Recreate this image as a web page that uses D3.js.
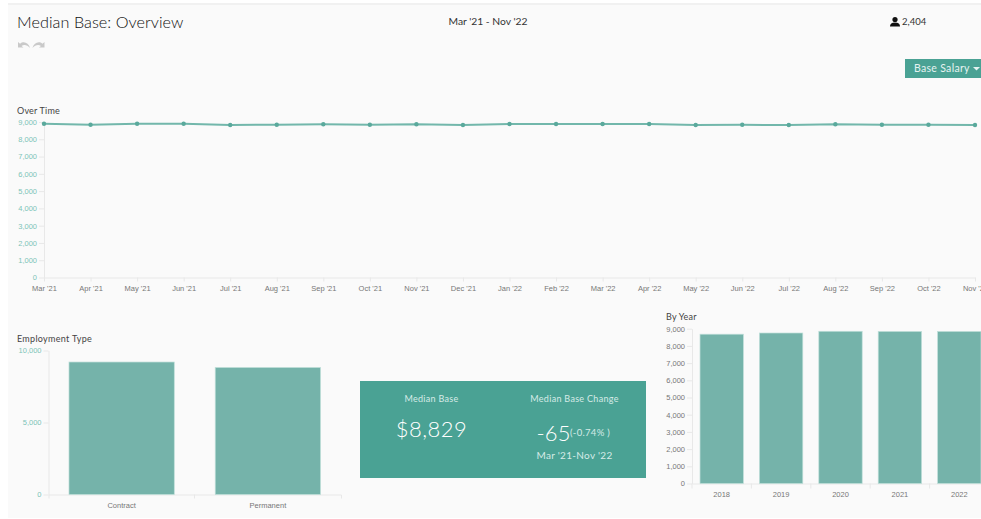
<!DOCTYPE html>
<html>
<head>
<meta charset="utf-8">
<script src="https://cdn.jsdelivr.net/npm/d3@7"></script>
<style>
  html, body { margin: 0; padding: 0; background: #fff; overflow: hidden; }
  svg { display: block; }
  .ui { font-family: "Lato", sans-serif; }
  .axis text { font-family: "Liberation Sans", sans-serif; font-size: 7.5px; }
  .axis path, .axis line { stroke: #e8e8e8; }
</style>
</head>
<body>
<svg width="981" height="519"></svg>
<script>
// values
var months = ["Mar '21","Apr '21","May '21","Jun '21","Jul '21","Aug '21","Sep '21","Oct '21","Nov '21","Dec '21",
    "Jan '22","Feb '22","Mar '22","Apr '22","May '22","Jun '22","Jul '22","Aug '22","Sep '22","Oct '22","Nov '22"];
var medianBase = [8895,8845,8895,8900,8830,8840,8870,8845,8873,8828,8884,8880,8880,8884,8826,8838,8826,8873,8838,8838,8829];
var empTypes = ["Contract","Permanent"];
var empValues = [9200,8820];
var empTicks = [0,5000,10000];
var years = ["2018","2019","2020","2021","2022"];
var yearValues = [8680,8750,8850,8840,8840];
var countTicks = d3.range(0,10000,1000);

var TEAL = "#4aa294", BAR = "#75b3aa", BAR_EDGE = "#bfdfd9", LINE = "#72b7ab", TICK_TEAL = "#7cc4b8", TICK_GREY = "#777";

var svg = d3.select("svg");

// page panel
svg.append("rect").attr("x",8).attr("y",4).attr("width",973).attr("height",514).attr("fill","#fafafa");
svg.append("rect").attr("x",8).attr("y",3).attr("width",973).attr("height",2).attr("fill","#f1f1f1");

function label(x, y, txt, size, fill, anchor, weight) {
    return svg.append("text")
    .attr("class","ui")
    .attr("x",x).attr("y",y)
    .attr("font-size",size)
    .attr("fill",fill)
    .attr("text-anchor",anchor || "start")
    .attr("font-weight",weight || 400)
    .text(txt);
}

function styleAxis(g, colour) {
    g.attr("class","axis");
    g.selectAll("text").attr("fill",colour);
}

// header
label(17,28,"Median Base: Overview",16.2,"#111","start",300).attr("letter-spacing",0.05);
label(488,25,"Mar '21 - Nov '22",10.3,"#333","middle");
label(902,25,"2,404",9.5,"#333");

// person icon
svg.append("circle").attr("cx",895).attr("cy",19.5).attr("r",2.6).attr("fill","#111");
svg.append("path").attr("d","M890 26.5 q0-4 5-4 q5 0 5 4 z").attr("fill","#111");

// undo / redo arrows
[[18,1.1],[44.5,-1.1]].forEach(function(a) {
    svg.append("path")
    .attr("transform","translate("+a[0]+",41.5) scale("+a[1]+",1)")
    .attr("d","M0 0.5 L0 6 L5 6 L3.2 4.4 C5.5 2.8 8.5 3.4 11 6.5 C9.5 1 5 -1 1.9 2.2 Z")
    .attr("fill","#c9c9c9");
});

// dropdown
svg.append("rect").attr("x",905).attr("y",59).attr("width",76).attr("height",19).attr("fill",TEAL);
label(914,72,"Base Salary",10.5,"#e6f3f1").attr("letter-spacing",0.3);
svg.append("path").attr("d","M973 67 h7 l-3.5 3.5 z").attr("fill","#e6f3f1");

// over time line
label(17,114,"Over Time",9,"#444").attr("letter-spacing",0.2);

var xLine = d3.scalePoint().domain(months).range([44,975]);
var yLine = d3.scaleLinear().domain([0,9000]).range([277.5,122]);

var gx = svg.append("g").attr("transform","translate(0,277.5)")
    .call(d3.axisBottom(xLine).tickSize(4).tickSizeOuter(0).tickPadding(4));
styleAxis(gx, TICK_GREY);
var gy = svg.append("g").attr("transform","translate(44,0)")
    .call(d3.axisLeft(yLine).tickValues(countTicks).tickFormat(d3.format(",")).tickSize(5).tickSizeOuter(0).tickPadding(2));
styleAxis(gy, TICK_TEAL);

svg.append("path")
    .datum(medianBase)
    .attr("fill","none")
    .attr("stroke",LINE)
    .attr("stroke-width",2)
    .attr("d",d3.line().x(function(d,i) {return xLine(months[i]);}).y(function(d) {return yLine(d);}));

svg.selectAll("circle.pt")
    .data(medianBase)
    .enter()
    .append("circle")
    .attr("class","pt")
    .attr("r",2.2)
    .attr("fill","#5aa99c")
    .attr("cx",function(d,i) {return xLine(months[i]);})
    .attr("cy",function(d) {return yLine(d);});

// employment type bars
label(17,342,"Employment Type",9,"#444").attr("letter-spacing",0.3);

var xEmp = d3.scaleBand().domain(empTypes).range([48.5,341]).paddingInner(0.28).paddingOuter(0.14);
var yEmp = d3.scaleLinear().domain([0,10000]).range([494.5,350.5]);

var ex = svg.append("g").attr("transform","translate(0,494.5)")
    .call(d3.axisBottom(xEmp).tickSize(4).tickPadding(4).tickSizeOuter(4));
styleAxis(ex, TICK_GREY);
ex.selectAll(".tick line").remove();
ex.selectAll("line.sep")
    .data([194.5])
    .enter().append("line").attr("class","sep")
    .attr("x1",function(d) {return d;}).attr("x2",function(d) {return d;})
    .attr("y1",0).attr("y2",4);
var ey = svg.append("g").attr("transform","translate(48.5,0)")
    .call(d3.axisLeft(yEmp).tickValues(empTicks).tickFormat(d3.format(",")).tickSize(5).tickSizeOuter(0).tickPadding(2));
styleAxis(ey, TICK_TEAL);

svg.selectAll("rect.emp")
    .data(empValues)
    .enter()
    .append("rect")
    .attr("class","emp")
    .attr("fill",BAR)
    .attr("stroke",BAR_EDGE)
    .attr("stroke-width",0.7)
    .attr("x",function(d,i) {return xEmp(empTypes[i]);})
    .attr("width",xEmp.bandwidth())
    .attr("y",function(d) {return yEmp(d);})
    .attr("height",function(d) {return yEmp(0)-yEmp(d);});

// KPI card
svg.append("rect").attr("x",360).attr("y",381).attr("width",286).attr("height",97).attr("fill",TEAL);
label(431.5,402,"Median Base",9,"#d6ebe7","middle").attr("letter-spacing",0.3);
label(431.5,437,"$8,829",22,"#fff","middle",300).attr("letter-spacing",0.5);
label(574.5,402,"Median Base Change",9,"#d6ebe7","middle").attr("letter-spacing",0.3);
label(536.5,441,"-65",22,"#fff","start",300).attr("letter-spacing",0.2);
label(570,436,"(-0.74% )",9.5,"#d6ebe7").attr("letter-spacing",0.3);
label(574.5,459,"Mar '21-Nov '22",10,"#d6ebe7","middle").attr("letter-spacing",0.3);

// by year bars
label(666,320,"By Year",9,"#444").attr("letter-spacing",0.2);

var xYear = d3.scaleBand().domain(years).range([692,989]).paddingInner(0.27).paddingOuter(0.135);
var yYear = d3.scaleLinear().domain([0,9000]).range([483.5,328.7]);

var yx = svg.append("g").attr("transform","translate(0,483.5)")
    .call(d3.axisBottom(xYear).tickSize(0).tickPadding(8).tickSizeOuter(0));
styleAxis(yx, TICK_GREY);
yx.selectAll("line.sep")
    .data(years)
    .enter().append("line").attr("class","sep")
    .attr("x1",function(d) {return xYear(d)-xYear.step()*xYear.paddingInner()/2;})
    .attr("x2",function(d) {return xYear(d)-xYear.step()*xYear.paddingInner()/2;})
    .attr("y1",0).attr("y2",5);
var yy = svg.append("g").attr("transform","translate(692,0)")
    .call(d3.axisLeft(yYear).tickValues(countTicks).tickFormat(d3.format(",")).tickSize(5).tickSizeOuter(0).tickPadding(2));
styleAxis(yy, TICK_GREY);

svg.selectAll("rect.yr")
    .data(yearValues)
    .enter()
    .append("rect")
    .attr("class","yr")
    .attr("fill",BAR)
    .attr("stroke",BAR_EDGE)
    .attr("stroke-width",0.7)
    .attr("x",function(d,i) {return xYear(years[i]);})
    .attr("width",xYear.bandwidth())
    .attr("y",function(d) {return yYear(d);})
    .attr("height",function(d) {return yYear(0)-yYear(d);});
</script>
</body>
</html>
